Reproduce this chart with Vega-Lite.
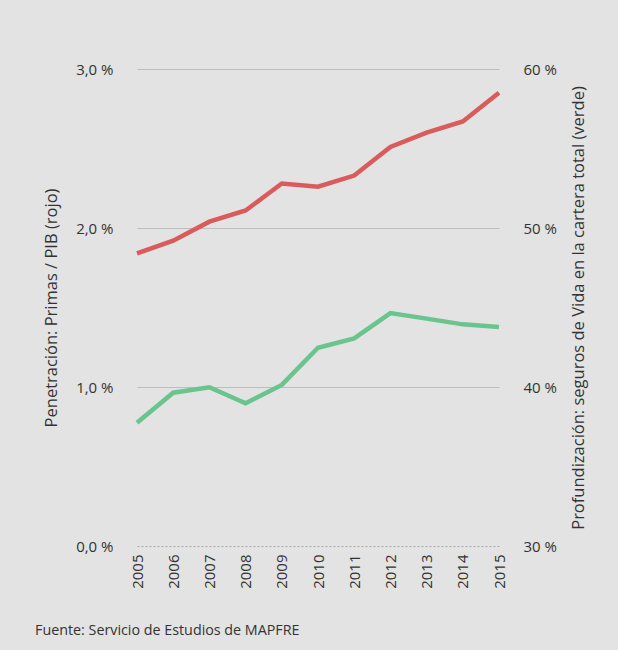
{
  "$schema": "https://vega.github.io/schema/vega-lite/v6.json",
  "autosize": {"type": "none"},
  "width": 362,
  "height": 477,
  "padding": {"left": 137, "top": 69, "right": 119, "bottom": 104},
  "background": "#e2e3e2",
  "config": {
    "view": {"stroke": null},
    "font": "Open Sans",
    "axis": {"labelFont": "Open Sans", "titleFont": "Open Sans", "labelColor": "#333333", "titleColor": "#333333", "labelFontSize": 15, "titleFontSize": 16.5, "titleFontWeight": "normal", "domain": false, "ticks": false},
    "title": {"font": "Open Sans"}
  },
  "title": {
    "text": "Fuente: Servicio de Estudios de MAPFRE",
    "orient": "bottom",
    "anchor": "start",
    "frame": "group",
    "fontSize": 14.3,
    "fontWeight": "normal",
    "color": "#333333",
    "dx": -102,
    "offset": 36
  },
  "data": {
    "values": [
      {"year": 2005, "pen": 1.84, "prof": 37.75},
      {"year": 2006, "pen": 1.92, "prof": 39.64},
      {"year": 2007, "pen": 2.04, "prof": 39.98},
      {"year": 2008, "pen": 2.11, "prof": 38.97},
      {"year": 2009, "pen": 2.28, "prof": 40.13},
      {"year": 2010, "pen": 2.26, "prof": 42.47},
      {"year": 2011, "pen": 2.33, "prof": 43.06},
      {"year": 2012, "pen": 2.51, "prof": 44.65},
      {"year": 2013, "pen": 2.60, "prof": 44.30},
      {"year": 2014, "pen": 2.67, "prof": 43.94},
      {"year": 2015, "pen": 2.85, "prof": 43.77}
    ]
  },
  "encoding": {
    "x": {
      "field": "year",
      "type": "ordinal",
      "scale": {"type": "point", "padding": 0},
      "axis": {"title": null, "labelAngle": -90, "labelPadding": 8, "grid": false, "labelFontSize": 15}
    }
  },
  "layer": [
    {
      "mark": {"type": "line", "color": "#d95b5c", "strokeWidth": 4.5, "strokeCap": "butt"},
      "encoding": {
        "y": {
          "field": "pen",
          "type": "quantitative",
          "scale": {"domain": [0, 3], "nice": false, "zero": true},
          "axis": {
            "title": "Penetración: Primas / PIB (rojo)",
            "values": [0, 1, 2, 3],
            "labelExpr": "replace(format(datum.value, '.1f'), '.', ',') + ' %'",
            "labelPadding": 24,
            "titlePadding": 16,
            "grid": true,
            "gridColor": {"condition": {"test": "datum.value === 0", "value": "#aaaaaa"}, "value": "#bdbdbd"},
            "gridDash": {"condition": {"test": "datum.value === 0", "value": [2, 2]}, "value": []},
            "gridWidth": 1.2
          }
        }
      }
    },
    {
      "mark": {"type": "line", "color": "#6ac48e", "strokeWidth": 4.5, "strokeCap": "butt"},
      "encoding": {
        "y": {
          "field": "prof",
          "type": "quantitative",
          "scale": {"domain": [30, 60], "nice": false, "zero": false},
          "axis": {
            "orient": "right",
            "title": "Profundización: seguros de Vida en la cartera total (verde)",
            "titleAngle": 270,
            "values": [30, 40, 50, 60],
            "labelExpr": "datum.value + ' %'",
            "labelPadding": 24,
            "titlePadding": 30,
            "grid": false
          }
        }
      }
    }
  ],
  "resolve": {"scale": {"y": "independent"}}
}
